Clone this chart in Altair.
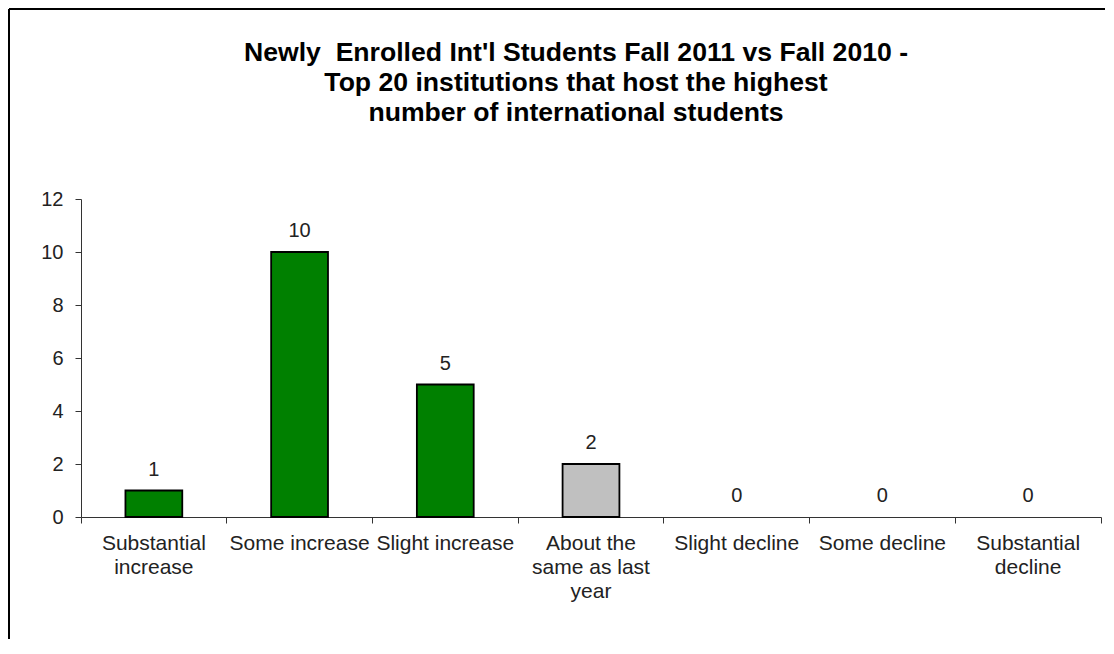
import altair as alt
import pandas as pd

# ---- data ----
categories = [
    "Substantial\nincrease",
    "Some increase",
    "Slight increase",
    "About the\nsame as last\nyear",
    "Slight decline",
    "Some decline",
    "Substantial\ndecline",
]
counts = [1, 10, 5, 2, 0, 0, 0]
bar_colors = ["#008000", "#008000", "#008000", "#C0C0C0", "#008000", "#008000", "#008000"]
y_ticks = [0, 2, 4, 6, 8, 10, 12]
title_lines = [
    "Newly\u00a0 Enrolled Int'l Students Fall 2011 vs Fall 2010 -",
    "Top 20 institutions that host the highest",
    "number of international students",
]

df = pd.DataFrame({"category": categories, "count": counts, "color": bar_colors})

FONT = "Liberation Sans"

x_enc = alt.X(
    "category:N",
    sort=categories,
    scale=alt.Scale(domain=categories, paddingInner=0, paddingOuter=0),
    axis=alt.Axis(
        title=None,
        labelAngle=0,
        bandPosition=1,
        tickExtra=True,
        tickSize=6,
        tickColor="#333333",
        domainColor="#333333",
        labelPadding=9,
        labelFont=FONT,
        labelFontSize=21,
        labelLineHeight=24,
        labelColor="#222222",
        labelLimit=300,
        labelOverlap=False,
        labelExpr="split(datum.label, '\\n')",
    ),
)
y_enc = alt.Y(
    "count:Q",
    scale=alt.Scale(domain=[0, 12], nice=False),
    axis=alt.Axis(
        title=None,
        values=y_ticks,
        grid=False,
        tickSize=6,
        tickColor="#333333",
        domainColor="#333333",
        labelPadding=12,
        labelFont=FONT,
        labelFontSize=20,
        labelColor="#222222",
    ),
)

base = alt.Chart(df)

bars = base.transform_filter("datum.count > 0").mark_bar(
    width=alt.RelativeBandSize(0.39), stroke="black", strokeWidth=1.8
).encode(x=x_enc, y=y_enc, color=alt.Color("color:N", scale=None))

labels = base.mark_text(
    baseline="alphabetic", dy=-15, font=FONT, fontSize=20, color="#222222"
).encode(x=x_enc, y=y_enc, text="count:Q")

frame_top = alt.Chart(df).mark_rule(color="black", strokeWidth=2).encode(
    x=alt.value(-72), x2=alt.value(1024), y=alt.value(-190)
)
frame_left = alt.Chart(df).mark_rule(color="black", strokeWidth=2).encode(
    x=alt.value(-72), y=alt.value(-190), y2=alt.value(440)
)

chart = (
    alt.layer(frame_top, frame_left, bars, labels)
    .properties(
        width=1020,
        height=318,
        padding=0,
        title=alt.TitleParams(
            text=title_lines,
            font=FONT,
            fontSize=26.6,
            fontWeight="bold",
            lineHeight=30,
            color="black",
            anchor="middle",
            dx=-15,
            offset=-119,
        ),
    )
    .configure_view(stroke=None)
)

chart.save("out.html", embed_options={"renderer": "svg", "actions": False})
